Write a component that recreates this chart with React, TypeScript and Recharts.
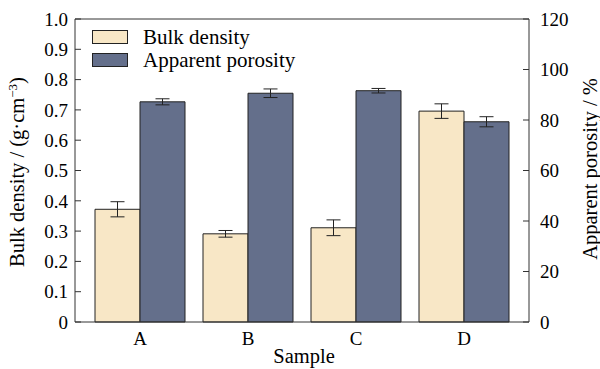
import React from "react";
import { BarChart, Bar, XAxis, YAxis, ErrorBar, ReferenceLine } from "recharts";

const samples = ["A", "B", "C", "D"];
const bulkDensity = [0.372, 0.291, 0.311, 0.696];
const bulkDensityErr = [0.025, 0.011, 0.026, 0.024];
const porosity = [87.2, 90.6, 91.6, 79.3];
const porosityErr = [1.2, 1.7, 0.9, 2.0];

const leftTicks = [0, 0.1, 0.2, 0.3, 0.4, 0.5, 0.6, 0.7, 0.8, 0.9, 1.0];
const rightTicks = [0, 20, 40, 60, 80, 100, 120];
const rightMinorTicks = [10, 30, 50, 70, 90, 110];

const data = samples.map((s, i) => ({
  sample: s,
  bulk: bulkDensity[i],
  bulkErr: bulkDensityErr[i],
  porosity: porosity[i],
  porosityErr: porosityErr[i],
}));

const FONT = '"Liberation Serif", "Times New Roman", serif';
const BEIGE = "#F8E7C6";
const SLATE = "#646F8B";
const AXIS = "#333";

const legendItems = [
  { label: "Bulk density", color: BEIGE },
  { label: "Apparent porosity", color: SLATE },
];

// legend drawn as an overlay so it does not eat into the plot margins
function LegendBox() {
  return (
    <div
      style={{
        position: "absolute",
        left: 92,
        top: 26,
        fontFamily: FONT,
        fontSize: 21,
        lineHeight: "22px",
        pointerEvents: "none",
      }}
    >
      {legendItems.map((it) => (
        <div key={it.label} style={{ display: "flex", alignItems: "center", height: 22.5 }}>
          <span
            style={{
              display: "inline-block",
              width: 34,
              height: 12,
              background: it.color,
              border: "1px solid #222",
              marginRight: 15,
            }}
          />
          <span style={{ color: "#000" }}>{it.label}</span>
        </div>
      ))}
    </div>
  );
}

export default function App() {
  return (
    <div style={{ position: "absolute", left: 0, top: 0, width: 600, height: 369, background: "#fff" }}>
      <BarChart
        width={600}
        height={369}
        data={data}
        margin={{ top: 19, right: 0, bottom: 0, left: 0 }}
        barGap={0}
        barCategoryGap={9}
      >
        <XAxis
          dataKey="sample"
          height={47}
          padding={{ left: 11, right: 11 }}
          tickLine={false}
          tickSize={0}
          tickMargin={10}
          stroke={AXIS}
          tick={{ fill: "#000", fontSize: 19, fontFamily: FONT }}
        />
        <YAxis
          yAxisId="left"
          domain={[0, 1]}
          ticks={leftTicks}
          width={75}
          interval={0}
          tickSize={-6}
          tickMargin={13}
          stroke={AXIS}
          tickFormatter={(v: number) => (v === 0 ? "0" : v.toFixed(1))}
          tick={{ fill: "#000", fontSize: 19, fontFamily: FONT }}
        />
        <YAxis
          yAxisId="minor"
          orientation="right"
          domain={[0, 120]}
          ticks={rightMinorTicks}
          width={0}
          axisLine={false}
          tickSize={-3.5}
          tick={false}
          stroke={AXIS}
        />
        <YAxis
          yAxisId="right"
          orientation="right"
          domain={[0, 120]}
          ticks={rightTicks}
          width={71}
          interval={0}
          tickSize={-6}
          tickMargin={17}
          stroke={AXIS}
          tick={{ fill: "#000", fontSize: 19, fontFamily: FONT }}
        />
        <ReferenceLine yAxisId="left" y={1} stroke={AXIS} strokeWidth={1} />
        <Bar
          yAxisId="left"
          dataKey="bulk"
          fill={BEIGE}
          stroke="#222"
          strokeWidth={1}
          isAnimationActive={false}
        >
          <ErrorBar dataKey="bulkErr" width={7} stroke="#222" strokeWidth={1} />
        </Bar>
        <Bar
          yAxisId="right"
          dataKey="porosity"
          fill={SLATE}
          stroke="#222"
          strokeWidth={1}
          isAnimationActive={false}
        >
          <ErrorBar dataKey="porosityErr" width={7} stroke="#222" strokeWidth={1} />
        </Bar>
      </BarChart>
      <LegendBox />
      <svg
        width={600}
        height={369}
        style={{ position: "absolute", left: 0, top: 0, pointerEvents: "none" }}
        fontFamily={FONT}
        fontSize={20.5}
        fill="#000"
      >
        <text x={24} y={172} textAnchor="middle" transform="rotate(-90 24 172)">
          Bulk density / (g·cm
          <tspan fontSize={13} dy={-7}>−3</tspan>
          <tspan dy={7}>)</tspan>
        </text>
        <text x={597} y={169} textAnchor="middle" transform="rotate(-90 597 169)">
          Apparent porosity / %
        </text>
        <text x={304} y={363} textAnchor="middle">
          Sample
        </text>
      </svg>
    </div>
  );
}
